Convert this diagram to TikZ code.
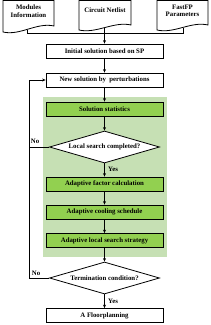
\documentclass[tikz,border=0pt]{standalone}
\usepackage{fontspec}
\setmainfont{Liberation Serif}
\usetikzlibrary{shapes.geometric,arrows.meta}
\definecolor{panelgreen}{HTML}{C6E0B4}
\definecolor{boxgreen}{HTML}{92D050}
\begin{document}
\begin{tikzpicture}[x=1pt,y=-1pt,
  font=\fontsize{6.8}{7.6}\selectfont\bfseries,
  box/.style={draw, line width=0.8pt, minimum width=117pt, minimum height=14pt, inner sep=0pt, fill=white},
  gbox/.style={box, fill=boxgreen},
  dec/.style={diamond, draw, line width=0.8pt, fill=white, minimum width=110pt, minimum height=32pt, inner sep=0pt, aspect=3.4},
  doc/.style={draw, line width=0.8pt, fill=white},
  arr/.style={-{Stealth[length=3.5pt,width=3pt]}, line width=0.8pt},
  ln/.style={line width=0.8pt},
  lab/.style={inner sep=1pt}]
\useasboundingbox (0,0) rectangle (210,325);
% panel
\node[fill=panelgreen, minimum width=124pt, minimum height=160pt, inner sep=0pt] (panel) at (105,177) {};
% documents
\draw[doc] (3,0.5) -- (54,0.5) -- (54,26) .. controls (37,22) and (20,36) .. (3,32) -- cycle;
\draw[doc] (79,0.5) -- (131,0.5) -- (131,25) .. controls (114,21) and (96,34) .. (79,30) -- cycle;
\draw[doc] (157,0.5) -- (208,0.5) -- (208,25) .. controls (191,21) and (174,34) .. (157,30) -- cycle;
\node[align=center] (d1) at (28.5,11) {Modules\\Information};
\node (d2) at (105,10) {Circuit Netlist};
\node[align=center] (d3) at (182.5,11) {FastFP\\Parameters};
\coordinate (d1b) at (27,29.5);
\coordinate (d2b) at (104.5,28);
\coordinate (d3b) at (183,27.5);
\coordinate (j1) at (27,33);
\coordinate (j3) at (183,33);
% main column
\node[box] (init) at (104.5,51) {Initial solution based on SP};
\node[box] (newsol) at (104.5,80) {New solution by\ \ perturbations};
\node[gbox] (stats) at (104.5,109) {Solution statistics};
\node[dec] (ls) at (104.5,147) {Local search completed?};
\node[gbox] (fac) at (104.5,184) {Adaptive factor calculation};
\node[gbox] (cool) at (104.5,212) {Adaptive cooling schedule};
\node[gbox] (strat) at (104.5,240.5) {Adaptive local search strategy};
\node[dec] (term) at (104.5,278) {Termination condition?};
\node[box] (floor) at (104.5,315.5) {A Floorplanning};
\coordinate (lft) at (29,0);
% connectors
\draw[ln] (d1b) -- (j1) -- (j3) -- (d3b);
\draw[arr] (d2b) -- (init);
\draw[arr] (init) -- (newsol);
\draw[arr] (newsol) -- (stats);
\draw[arr] (stats) -- (ls);
\draw[arr] (ls) -- (fac);
\draw[arr] (fac) -- (cool);
\draw[arr] (cool) -- (strat);
\draw[arr] (strat) -- (term);
\draw[arr] (term) -- (floor);
\draw[ln] (ls.west) -- (ls.west -| lft);
\draw[arr] (term.west) -- (term.west -| lft) |- (newsol.west);
% labels
\node[lab] (no1) at (35,141) {No};
\node[lab] (no2) at (36,273) {No};
\node[lab] (yes1) at (113,169) {Yes};
\node[lab] (yes2) at (113,301) {Yes};
\end{tikzpicture}
\end{document}
